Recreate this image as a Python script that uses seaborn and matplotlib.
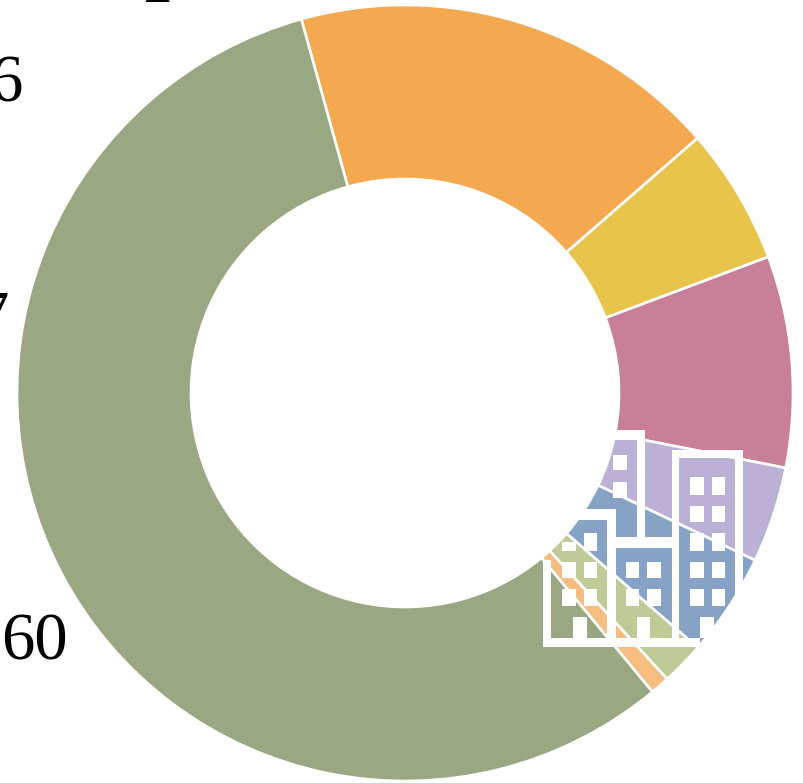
# -*- coding: utf-8 -*-
import matplotlib
matplotlib.use('Agg')
import matplotlib.pyplot as plt
from matplotlib.patches import Rectangle
import seaborn as sns

segments = ['orange', 'yellow', 'pink', 'purple', 'blue',
            'light green', 'pale orange', 'green']
shares = [17.9, 5.7, 8.8, 4.0, 4.3, 1.8, 0.8, 56.7]
seg_colors = ['#F4A84F', '#E8C44A', '#C88098', '#BDB0D6', '#86A3C6',
              '#BFCB96', '#F5BD80', '#99A882']

# Cropped labels left around the ring
labels = ['6', '7', '60', '1']
label_pos = [(-11, 101), (-24, 337), (1, 660), (139, 2)]

sns.set_theme(style='white')
plt.rcParams['font.family'] = ['Liberation Serif', 'DejaVu Serif']

fig = plt.figure(figsize=(8.04, 7.83), dpi=100)
ax = fig.add_axes([0, 0, 1, 1])

cx, cy, r_out, r_in = 405, 393, 388, 214
ax.pie(shares, colors=sns.color_palette(seg_colors), center=(cx, cy),
       radius=r_out, startangle=254.5, counterclock=True,
       wedgeprops=dict(width=r_out - r_in, edgecolor='white', linewidth=1.9))
ax.set_xlim(0, 804)
ax.set_ylim(783, 0)    # y runs down so pixel positions can be used directly
ax.set_aspect('auto')
ax.axis('off')

for txt, (x, y) in zip(labels, label_pos):
    ax.text(x, y, txt, fontsize=48, color='black', ha='left', va='baseline')


# The building icon was measured in a 3x crop starting at (530, 420)
def add_box(x0, y0, x1, y1):
    ax.add_patch(Rectangle((530 + x0 / 3, 420 + y0 / 3), (x1 - x0) / 3,
                           (y1 - y0) / 3, facecolor='white', edgecolor='none',
                           zorder=5))


walls = [(40, 655, 510, 682), (40, 420, 62, 682), (232, 270, 258, 682),
         (100, 268, 258, 300), (425, 90, 447, 682), (232, 350, 447, 385),
         (320, 30, 345, 385), (240, 30, 345, 60), (425, 90, 640, 115),
         (615, 90, 640, 682)]
for box in walls:
    add_box(*box)

# Windows and doors
for top, bottom in [(172, 225), (257, 307), (340, 392), (425, 475), (507, 557)]:
    add_box(480, top, 522, bottom)
    add_box(545, top, 585, bottom)
for top, bottom in [(425, 475), (507, 557)]:
    add_box(288, top, 328, bottom)
    add_box(352, top, 392, bottom)
    add_box(97, top, 137, bottom)
    add_box(162, top, 200, bottom)
add_box(97, 365, 137, 392)
add_box(162, 340, 200, 392)
add_box(250, 105, 290, 150)
add_box(250, 185, 290, 235)
add_box(130, 590, 170, 655)
add_box(322, 590, 360, 655)
add_box(510, 590, 552, 655)

fig.savefig('out.png', dpi=100)
